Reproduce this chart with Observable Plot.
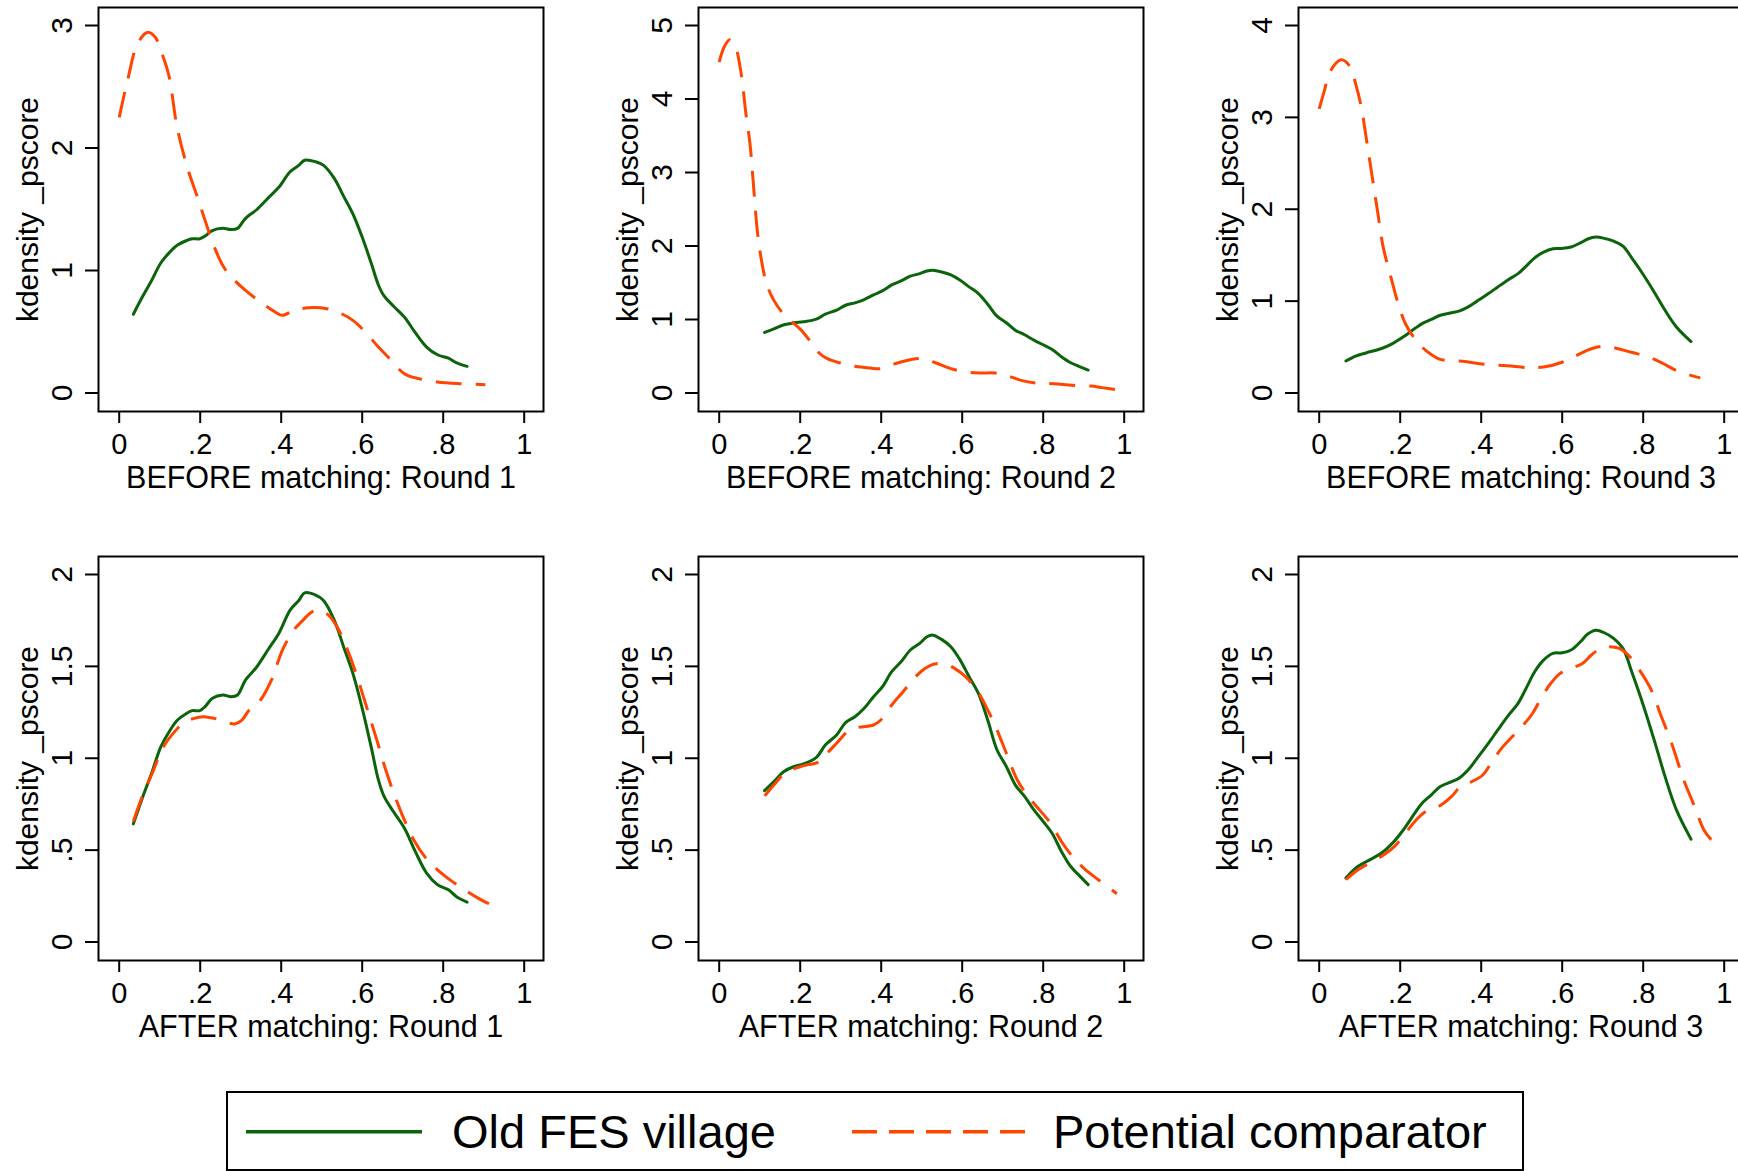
<!DOCTYPE html>
<html>
<head>
<meta charset="utf-8">
<script src="https://cdn.jsdelivr.net/npm/d3@7"></script>
<script src="https://cdn.jsdelivr.net/npm/@observablehq/plot@0.6"></script>
<style>
html, body { margin: 0; padding: 0; background: #fff; overflow: hidden; }
#fig { position: relative; width: 1738px; height: 1171px; overflow: hidden; background: #fff; }
.row { position: absolute; left: 0; display: flex; width: 1800px; }
.row > * { flex: none; }
#legend { position: absolute; left: 0; top: 1090px; }
</style>
</head>
<body>
<div id="fig"></div>
<script>
// ---------- data ----------
const seriesNames = ["Old FES village", "Potential comparator"];
const seriesColors = ["#0b640b", "#ff4500"];
const panelTitlesBefore = ["BEFORE matching: Round 1", "BEFORE matching: Round 2", "BEFORE matching: Round 3"];
const panelTitlesAfter = ["AFTER matching: Round 1", "AFTER matching: Round 2", "AFTER matching: Round 3"];
const yAxisTitle = "kdensity _pscore";
const xTickValues = [0, 0.2, 0.4, 0.6, 0.8, 1];
const yTicksBefore = [[0, 1, 2, 3], [0, 1, 2, 3, 4, 5], [0, 1, 2, 3, 4]];
const yTicksAfter = [0, 0.5, 1, 1.5, 2];

// Old FES village (same in BEFORE and AFTER panels)
const greenR1x = [0.035,0.057,0.080,0.103,0.126,0.144,0.167,0.180,0.199,0.212,0.230,0.256,0.276,0.292,0.312,0.340,0.367,0.394,0.422,0.444,0.458,0.485,0.504,0.531,0.554,0.577,0.599,0.622,0.640,0.654,0.677,0.704,0.731,0.759,0.786,0.813,0.832,0.859];
const greenR1y = [0.643,0.783,0.918,1.063,1.154,1.208,1.245,1.259,1.259,1.281,1.326,1.344,1.335,1.344,1.426,1.498,1.589,1.679,1.806,1.860,1.900,1.888,1.860,1.752,1.607,1.462,1.281,1.063,0.882,0.792,0.710,0.620,0.493,0.375,0.312,0.284,0.248,0.217];
const greenR2x = [0.112,0.135,0.160,0.185,0.208,0.240,0.262,0.290,0.312,0.335,0.358,0.381,0.403,0.426,0.449,0.472,0.495,0.513,0.528,0.549,0.572,0.595,0.617,0.640,0.663,0.686,0.709,0.731,0.754,0.777,0.800,0.822,0.845,0.868,0.891,0.911];
const greenR2y = [0.824,0.873,0.928,0.955,0.969,1.005,1.072,1.127,1.194,1.226,1.272,1.335,1.389,1.471,1.525,1.589,1.625,1.661,1.670,1.647,1.607,1.534,1.444,1.353,1.208,1.045,0.955,0.855,0.792,0.719,0.656,0.592,0.493,0.411,0.357,0.312];
const greenR3x = [0.066,0.090,0.117,0.154,0.181,0.208,0.236,0.254,0.277,0.299,0.327,0.345,0.368,0.390,0.418,0.441,0.468,0.491,0.513,0.532,0.554,0.577,0.600,0.622,0.645,0.663,0.683,0.704,0.727,0.750,0.773,0.800,0.827,0.854,0.882,0.918];
const greenR3y = [0.348,0.402,0.438,0.484,0.538,0.611,0.701,0.755,0.801,0.846,0.873,0.891,0.937,1.000,1.082,1.154,1.236,1.299,1.390,1.471,1.534,1.571,1.574,1.589,1.634,1.676,1.697,1.683,1.652,1.598,1.462,1.290,1.100,0.900,0.719,0.560];

// Potential comparator, BEFORE matching
const orangeBefR1x = [0.0,0.021,0.046,0.071,0.090,0.100,0.122,0.143,0.168,0.193,0.212,0.235,0.258,0.285,0.312,0.349,0.385,0.403,0.431,0.467,0.513,0.549,0.577,0.604,0.640,0.668,0.704,0.740,0.786,0.841,0.904];
const orangeBefR1y = [2.25,2.557,2.856,2.945,2.90,2.82,2.60,2.17,1.843,1.60,1.409,1.191,1.028,0.919,0.838,0.742,0.661,0.634,0.674,0.696,0.688,0.647,0.593,0.511,0.375,0.280,0.158,0.117,0.090,0.076,0.068];
const orangeBefR2x = [0.0,0.012,0.026,0.039,0.053,0.066,0.076,0.085,0.094,0.103,0.117,0.135,0.158,0.180,0.203,0.226,0.244,0.267,0.299,0.335,0.372,0.399,0.435,0.472,0.504,0.536,0.572,0.608,0.645,0.681,0.709,0.745,0.781,0.827,0.872,0.918,0.945,0.982];
const orangeBefR2y = [4.501,4.705,4.805,4.728,4.388,3.799,3.391,2.801,2.212,1.850,1.487,1.260,1.079,0.966,0.852,0.694,0.558,0.467,0.408,0.363,0.340,0.331,0.399,0.453,0.467,0.408,0.331,0.286,0.272,0.272,0.240,0.172,0.136,0.127,0.104,0.095,0.073,0.045];
const orangeBefR3x = [0.0,0.013,0.026,0.054,0.076,0.090,0.104,0.117,0.131,0.145,0.158,0.177,0.195,0.213,0.236,0.263,0.299,0.354,0.409,0.463,0.518,0.554,0.600,0.636,0.672,0.704,0.736,0.773,0.809,0.845,0.882,0.918,0.941];
const orangeBefR3y = [3.093,3.293,3.492,3.626,3.554,3.365,3.111,2.749,2.350,1.951,1.588,1.262,0.972,0.754,0.591,0.464,0.366,0.345,0.312,0.297,0.276,0.283,0.335,0.410,0.482,0.510,0.485,0.440,0.400,0.330,0.245,0.192,0.165];

// Potential comparator, AFTER matching
const orangeAftR1x = [0.035,0.057,0.085,0.107,0.130,0.158,0.185,0.208,0.235,0.262,0.285,0.303,0.321,0.349,0.376,0.403,0.431,0.454,0.476,0.495,0.517,0.540,0.567,0.590,0.613,0.636,0.658,0.681,0.704,0.727,0.754,0.786,0.822,0.859,0.886,0.913];
const orangeAftR1y = [0.656,0.792,0.937,1.054,1.127,1.190,1.217,1.226,1.217,1.199,1.187,1.208,1.263,1.317,1.426,1.589,1.697,1.752,1.797,1.806,1.779,1.707,1.571,1.426,1.263,1.100,0.937,0.792,0.665,0.556,0.466,0.393,0.330,0.275,0.239,0.208];
const orangeAftR2x = [0.112,0.135,0.162,0.189,0.217,0.242,0.262,0.290,0.317,0.344,0.381,0.399,0.426,0.454,0.481,0.508,0.531,0.558,0.581,0.608,0.636,0.663,0.686,0.709,0.736,0.763,0.791,0.818,0.845,0.872,0.900,0.936,0.982];
const orangeAftR2y = [0.795,0.855,0.918,0.946,0.964,0.976,1.018,1.082,1.145,1.168,1.181,1.208,1.290,1.362,1.435,1.489,1.513,1.513,1.489,1.444,1.371,1.263,1.154,1.027,0.882,0.792,0.719,0.647,0.547,0.466,0.402,0.339,0.263];
const orangeAftR3x = [0.066,0.090,0.117,0.154,0.186,0.213,0.236,0.263,0.295,0.327,0.349,0.377,0.404,0.427,0.450,0.477,0.504,0.527,0.550,0.572,0.595,0.622,0.650,0.672,0.695,0.718,0.741,0.763,0.791,0.818,0.845,0.873,0.900,0.927,0.950,0.968];
const orangeAftR3y = [0.339,0.384,0.420,0.466,0.520,0.592,0.656,0.710,0.737,0.792,0.846,0.873,0.909,0.982,1.054,1.118,1.181,1.245,1.335,1.408,1.462,1.489,1.516,1.562,1.598,1.607,1.598,1.562,1.480,1.380,1.226,1.063,0.882,0.737,0.610,0.556];

// ---------- drawing ----------
const FONT = "'Liberation Sans', Arial, Helvetica, sans-serif";
const toRows = (xs, ys) => xs.map((x, i) => ({x, y: ys[i]}));
const fmt = d => d === 0 ? "0" : String(d).replace(/^0\./, ".");

function panel({gx, gy, ox, oy, ymax, yTicks, title, height}) {
  const frameBottom = 411;
  return Plot.plot({
    width: 600,
    height,
    marginLeft: 98,
    marginRight: 57,
    marginTop: 7,
    marginBottom: height - frameBottom,
    style: {fontFamily: FONT, fontSize: "30px", color: "black", background: "white", overflow: "visible"},
    x: {domain: [0, 1], range: [118.7, 523.7]},
    y: {domain: [0, ymax], range: [392.5, 25]},
    marks: [
      Plot.line(toRows(gx, gy), {x: "x", y: "y", stroke: seriesColors[0], strokeWidth: 3, curve: "catmull-rom"}),
      Plot.line(toRows(ox, oy), {x: "x", y: "y", stroke: seriesColors[1], strokeWidth: 3, curve: "catmull-rom", strokeDasharray: "26,14", strokeLinecap: "butt"}),
      Plot.frame({stroke: "black", strokeWidth: 2}),
      Plot.axisX({ticks: xTickValues, tickFormat: fmt, tickSize: 12, tickPadding: 10, strokeWidth: 2, fontSize: 29, label: null}),
      Plot.axisY({ticks: yTicks, tickFormat: fmt, tickSize: 13, tickPadding: 13.5, tickRotate: -90, strokeWidth: 2, label: null}),
      Plot.text([title], {text: d => d, frameAnchor: "bottom", textAnchor: "middle", dy: 76, lineAnchor: "bottom", fontSize: 30.5, fill: "black"}),
      Plot.text([yAxisTitle], {text: d => d, frameAnchor: "left", textAnchor: "middle", dx: -82, rotate: -90, lineAnchor: "top", fontSize: 30, fill: "black"})
    ]
  });
}

const fig = document.getElementById("fig");
const greens = [[greenR1x, greenR1y], [greenR2x, greenR2y], [greenR3x, greenR3y]];
const orBef = [[orangeBefR1x, orangeBefR1y], [orangeBefR2x, orangeBefR2y], [orangeBefR3x, orangeBefR3y]];
const orAft = [[orangeAftR1x, orangeAftR1y], [orangeAftR2x, orangeAftR2y], [orangeAftR3x, orangeAftR3y]];

const row1 = document.createElement("div");
row1.className = "row"; row1.style.top = "0px";
const row2 = document.createElement("div");
row2.className = "row"; row2.style.top = "549px";
for (let i = 0; i < 3; i++) {
  row1.appendChild(panel({gx: greens[i][0], gy: greens[i][1], ox: orBef[i][0], oy: orBef[i][1],
    ymax: d3.max(yTicksBefore[i]), yTicks: yTicksBefore[i], title: panelTitlesBefore[i], height: 549}));
  row2.appendChild(panel({gx: greens[i][0], gy: greens[i][1], ox: orAft[i][0], oy: orAft[i][1],
    ymax: d3.max(yTicksAfter), yTicks: yTicksAfter, title: panelTitlesAfter[i], height: 541}));
}
fig.appendChild(row1);
fig.appendChild(row2);

// legend
const leg = d3.create("svg").attr("id", "legend").attr("width", 1738).attr("height", 81)
  .style("font-family", FONT);
leg.append("rect").attr("x", 227).attr("y", 2).attr("width", 1296).attr("height", 78)
  .attr("fill", "white").attr("stroke", "black").attr("stroke-width", 2);
const legItems = [
  {x1: 246, x2: 422, tx: 452, dash: null},
  {x1: 852, x2: 1025, tx: 1053, dash: "25,12"}
];
legItems.forEach((it, i) => {
  leg.append("line").attr("x1", it.x1).attr("x2", it.x2).attr("y1", 41.7).attr("y2", 41.7)
    .attr("stroke", seriesColors[i]).attr("stroke-width", 3.5)
    .attr("stroke-dasharray", it.dash);
  leg.append("text").attr("x", it.tx).attr("y", 58).attr("font-size", 47).attr("fill", "black")
    .text(seriesNames[i]);
});
fig.appendChild(leg.node());
</script>
</body>
</html>
